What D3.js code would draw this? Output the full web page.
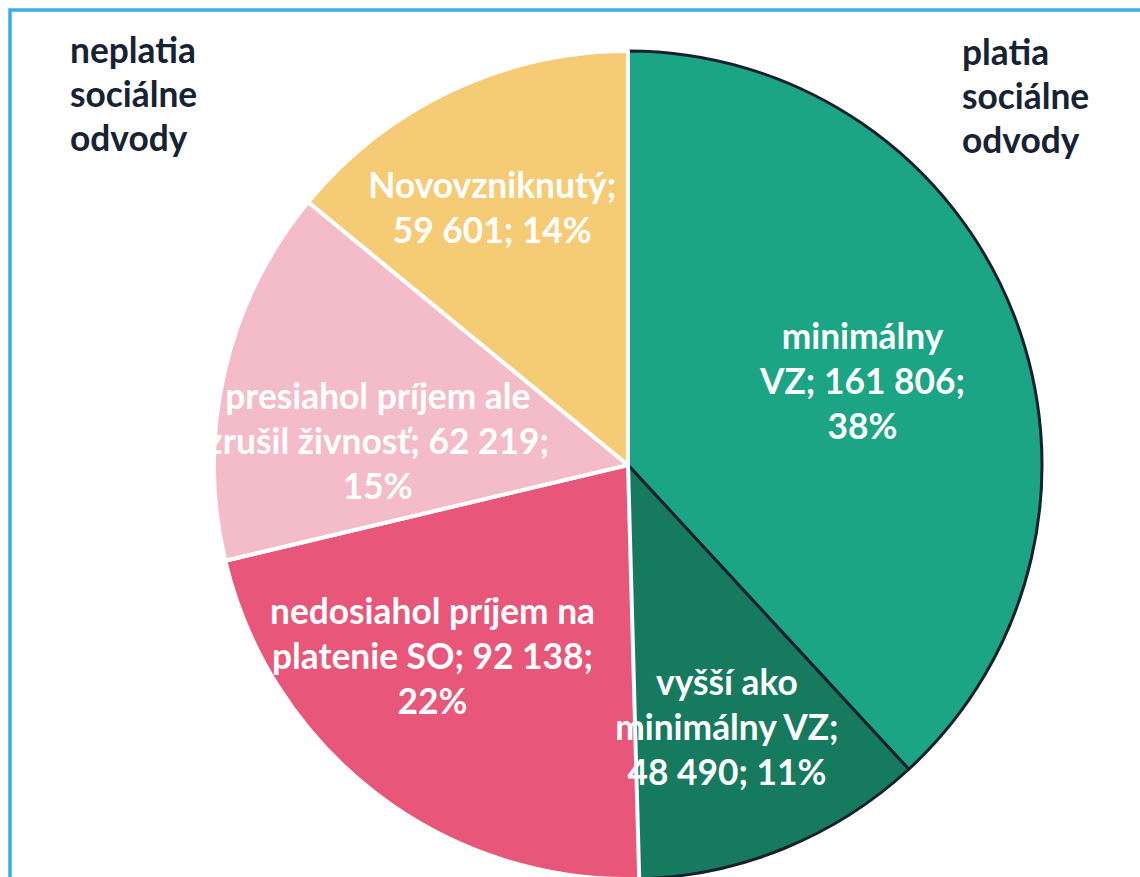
<!DOCTYPE html>
<html>
<head>
<meta charset="utf-8">
<script src="https://cdn.jsdelivr.net/npm/d3@7"></script>
<style>
  body { margin: 0; background: #fff; }
  text { font-family: Lato, "Open Sans", sans-serif; font-weight: 700; }
</style>
</head>
<body>
<svg width="1140" height="877"></svg>
<script>
// chart data
var categories = ["minimálny VZ", "vyšší ako minimálny VZ", "nedosiahol príjem na platenie SO", "presiahol príjem ale zrušil živnosť", "Novovzniknutý"];
var values = [161806, 48490, 92138, 62219, 59601];
var percents = [38, 11, 22, 15, 14];
var sideTitles = [["neplatia", "sociálne", "odvody"], ["platia", "sociálne", "odvody"]];

// look
var colors = ["#1ba584", "#167a5f", "#e8567a", "#f4bbc9", "#f5cb75"];
var darkEdge = [true, true, false, false, false];   // the two "platia" slices get a dark outline
var wrapWidth = [205, 235, 345, 345, 255];
var labelNudge = [[-20, 16], [-4, 10], [-29, -25], [16, 39], [-19, -9]];

var width = 1140, height = 877;
var cx = 628, cy = 465, radius = 414;
var lineH = 45, fontSize = 35.3;

var svg = d3.select("svg");

// light blue frame
svg.append("rect")
  .attr("x", 10).attr("y", 10)
  .attr("width", 1160).attr("height", 920)
  .attr("fill", "none")
  .attr("stroke", "#3aaee6")
  .attr("stroke-width", 3.5);

var data = categories.map((c, i) => ({name: c, value: values[i], pct: percents[i], i: i}));

var pie = d3.pie().sort(null).value(d => d.value);
var arcs = pie(data);

var arc = d3.arc().innerRadius(0).outerRadius(radius);
var labelArc = d3.arc().innerRadius(radius * 0.66).outerRadius(radius * 0.66);

var g = svg.append("g").attr("transform", "translate(" + cx + "," + cy + ")");

// dark outlined slices first, white outlined ones on top
var order = arcs.slice().sort((a, b) => (darkEdge[b.data.i] ? 1 : 0) - (darkEdge[a.data.i] ? 1 : 0));

g.selectAll("path")
  .data(order)
  .enter()
  .append("path")
    .attr("d", arc)
    .attr("fill", d => colors[d.data.i])
    .attr("stroke", d => darkEdge[d.data.i] ? "#17202e" : "#ffffff")
    .attr("stroke-width", d => darkEdge[d.data.i] ? 3 : 4)
    .attr("stroke-linejoin", "round");

// number with space thousands separator (kept unbreakable)
var fmt = v => d3.format(",")(v).replace(/,/g, "\u00a0");

var labels = g.selectAll("text.lbl")
  .data(arcs)
  .enter()
  .append("text")
    .attr("class", "lbl")
    .attr("fill", "#fff")
    .attr("font-size", fontSize)
    .attr("text-anchor", "middle");

labels.each(function(d) {
  var t = d3.select(this);
  var words = (d.data.name + "; " + fmt(d.data.value) + "; " + d.data.pct + "%").split(" ");
  var maxW = wrapWidth[d.data.i];
  var lines = [], cur = "";
  var probe = t.append("tspan");
  words.forEach(w => {
    var test = cur ? cur + " " + w : w;
    probe.text(test);
    if (cur && probe.node().getComputedTextLength() > maxW) {
      lines.push(cur);
      cur = w;
    } else {
      cur = test;
    }
  });
  lines.push(cur);
  probe.remove();

  var c = labelArc.centroid(d);
  var x = c[0] + labelNudge[d.data.i][0];
  var y = c[1] + labelNudge[d.data.i][1] - (lines.length - 1) / 2 * lineH + 12;
  lines.forEach((l, k) => {
    t.append("tspan")
      .attr("x", x)
      .attr("y", y + k * lineH)
      .text(l);
  });
});

// side titles
var titleX = [70, 962], titleY = [63, 65];
sideTitles.forEach((lines, j) => {
  var t = svg.append("text")
    .attr("fill", "#172233")
    .attr("font-size", fontSize);
  lines.forEach((l, k) => {
    t.append("tspan")
      .attr("x", titleX[j])
      .attr("y", titleY[j] + k * 44)
      .text(l);
  });
});
</script>
</body>
</html>
